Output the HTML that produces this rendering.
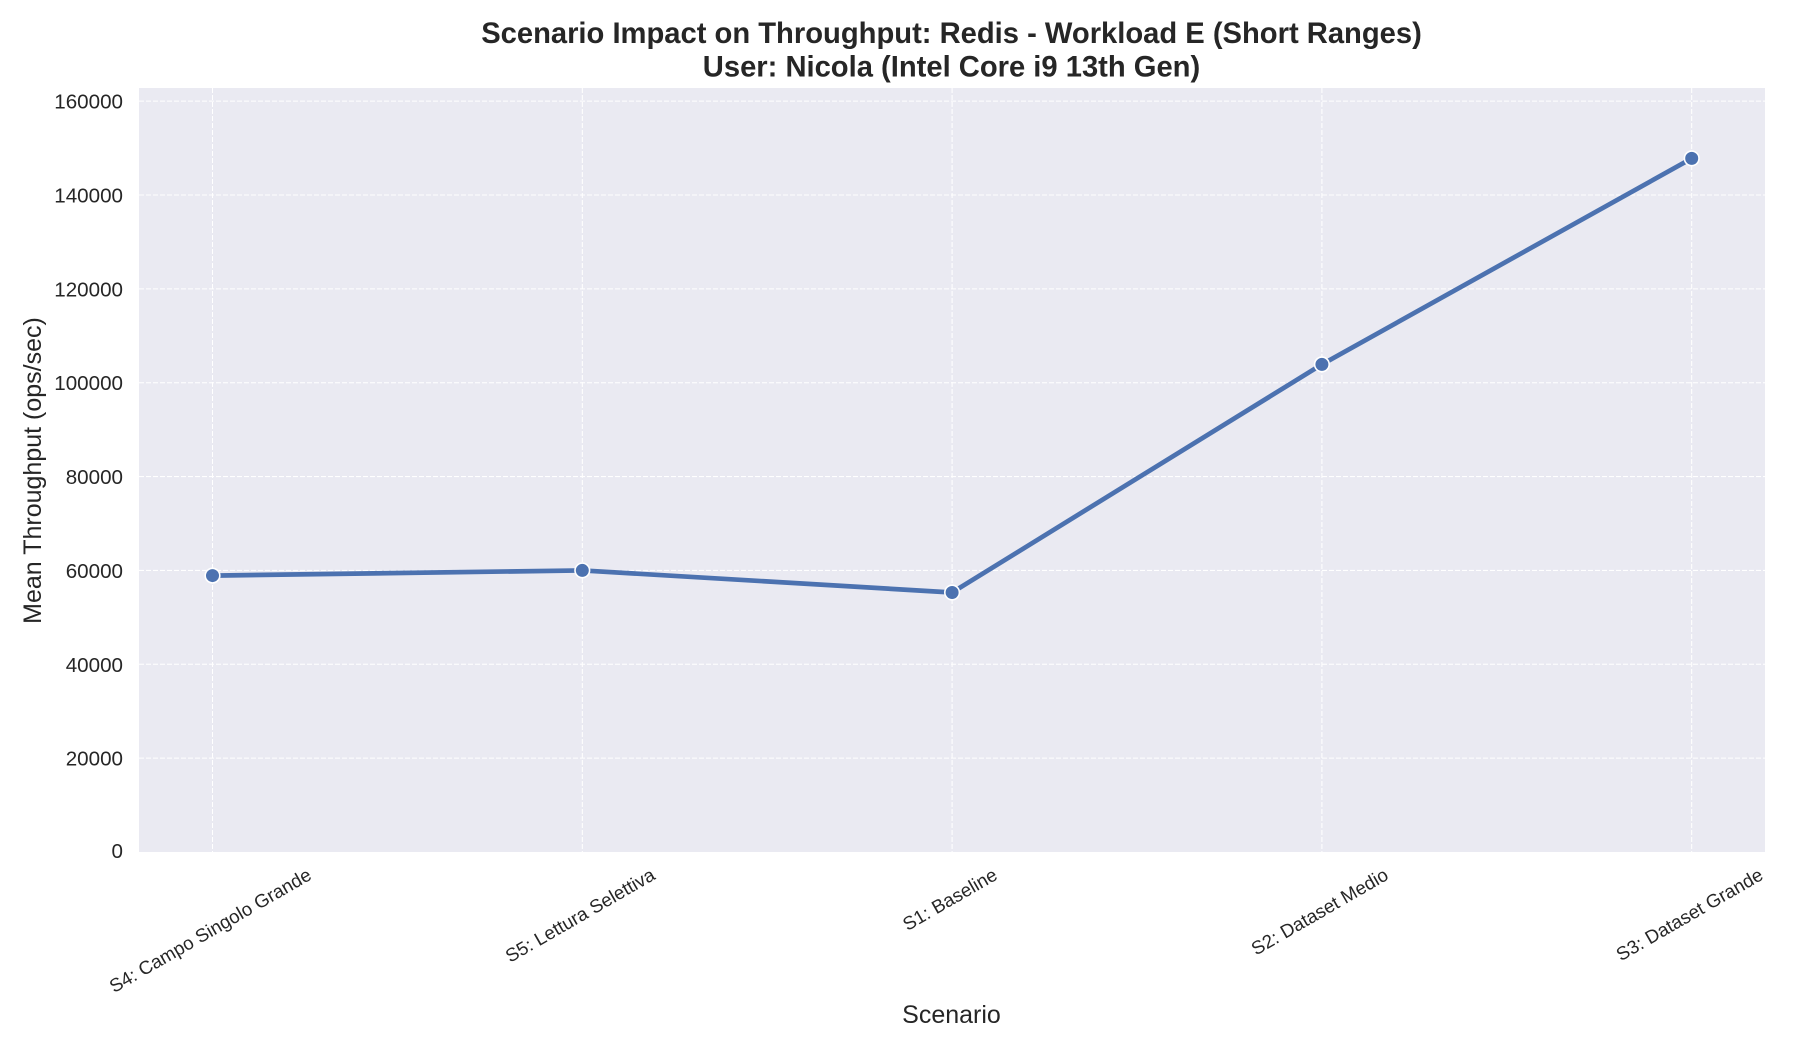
<!DOCTYPE html>
<html lang="en">
<head>
<meta charset="utf-8">
<title>Scenario Impact on Throughput</title>
<style>
html,body{margin:0;padding:0;background:#fff;}
svg{display:block;}
text{font-family:"Liberation Sans",Arial,sans-serif;fill:#262626;}
</style>
</head>
<body>
<svg id="chart" xmlns="http://www.w3.org/2000/svg" width="1800" height="1050" viewBox="0 0 1800 1050">
  <rect x="0" y="0" width="1800" height="1050" fill="#ffffff"/>
  <rect x="139" y="88" width="626" height="764" fill="#eaeaf2" id="plot"/>
  <g id="grid"></g>
  <g id="yticks"></g>
  <g id="xticks"></g>
  <g id="series"></g>
  <text x="951.5" y="43" text-anchor="middle" font-size="29.17" font-weight="bold">Scenario Impact on Throughput: Redis - Workload E (Short Ranges)</text>
  <text x="951.5" y="76.5" text-anchor="middle" font-size="29.17" font-weight="bold">User: Nicola (Intel Core i9 13th Gen)</text>
  <text x="951.5" y="1023" text-anchor="middle" font-size="25">Scenario</text>
  <text transform="translate(41 470.5) rotate(-90)" text-anchor="middle" font-size="25">Mean Throughput (ops/sec)</text>
</svg>
<script>
const categories = ["S4: Campo Singolo Grande", "S5: Lettura Selettiva", "S1: Baseline", "S2: Dataset Medio", "S3: Dataset Grande"];
const throughputValues = [58900, 60000, 55300, 103900, 147800];
const yTickValues = [0, 20000, 40000, 60000, 80000, 100000, 120000, 140000, 160000];
const yTickLabels = ["0", "20000", "40000", "60000", "80000", "100000", "120000", "140000", "160000"];

const NS = "http://www.w3.org/2000/svg";
const plotLeft = 139, plotRight = 1765, plotTop = 88, plotBottom = 852;
const xFirst = 212.5, xStep = 369.8;
const yDomainMax = 162800;

document.getElementById("plot").setAttribute("width", plotRight - plotLeft);

function xScale(i) {
  return xFirst + i * xStep;
}
function yScale(v) {
  return plotBottom - (v / yDomainMax) * (plotBottom - plotTop);
}
function make(tag, attrs, parent) {
  const el = document.createElementNS(NS, tag);
  for (const k in attrs) el.setAttribute(k, attrs[k]);
  parent.appendChild(el);
  return el;
}

const gridG = document.getElementById("grid");
const yG = document.getElementById("yticks");
const xG = document.getElementById("xticks");
const seriesG = document.getElementById("series");

const gridStyle = {stroke: "#ffffff", "stroke-width": 1.04, "stroke-dasharray": "5 2", fill: "none"};

yTickValues.forEach(function (v, i) {
  const y = yScale(v);
  if (v > 0) {
    const gl = make("line", Object.assign({x1: plotLeft, x2: plotRight, y1: y, y2: y}, gridStyle), gridG);
    
    
  }
  const t = make("text", {x: 123, y: v === 0 ? y + 6 : y + 7.5, "text-anchor": "end", "font-size": 20.6}, yG);
  t.textContent = yTickLabels[i];
  
  
});

categories.forEach(function (c, i) {
  const x = xScale(i);
  const gl = make("line", Object.assign({x1: x, x2: x, y1: plotTop, y2: plotBottom}, gridStyle), gridG);
  
  
  const t = make("text", {
    x: 0, y: 0, "text-anchor": "middle", "dominant-baseline": "central", "font-size": 18.75,
    transform: "translate(" + x + " 920) rotate(-30)"
  }, xG);
  t.textContent = c;
  
  
  const len = t.getComputedTextLength();
  const h = len * 0.5 + 17.9;
  t.setAttribute("transform", "translate(" + (x - 2.3) + " " + (864 + h / 2) + ") rotate(-30)");
});

const pts = throughputValues.map(function (v, i) {
  return xScale(i) + "," + yScale(v);
}).join(" ");
const seriesLine = make("polyline", {points: pts, fill: "none", stroke: "#4c72b0", "stroke-width": 4.7, "stroke-linejoin": "round", "stroke-linecap": "round"}, seriesG);



throughputValues.forEach(function (v, i) {
  const dot = make("circle", {cx: xScale(i), cy: yScale(v), r: 7.3, fill: "#4c72b0", stroke: "#ffffff", "stroke-width": 1.6}, seriesG);
  
  
});
</script>
</body>
</html>
